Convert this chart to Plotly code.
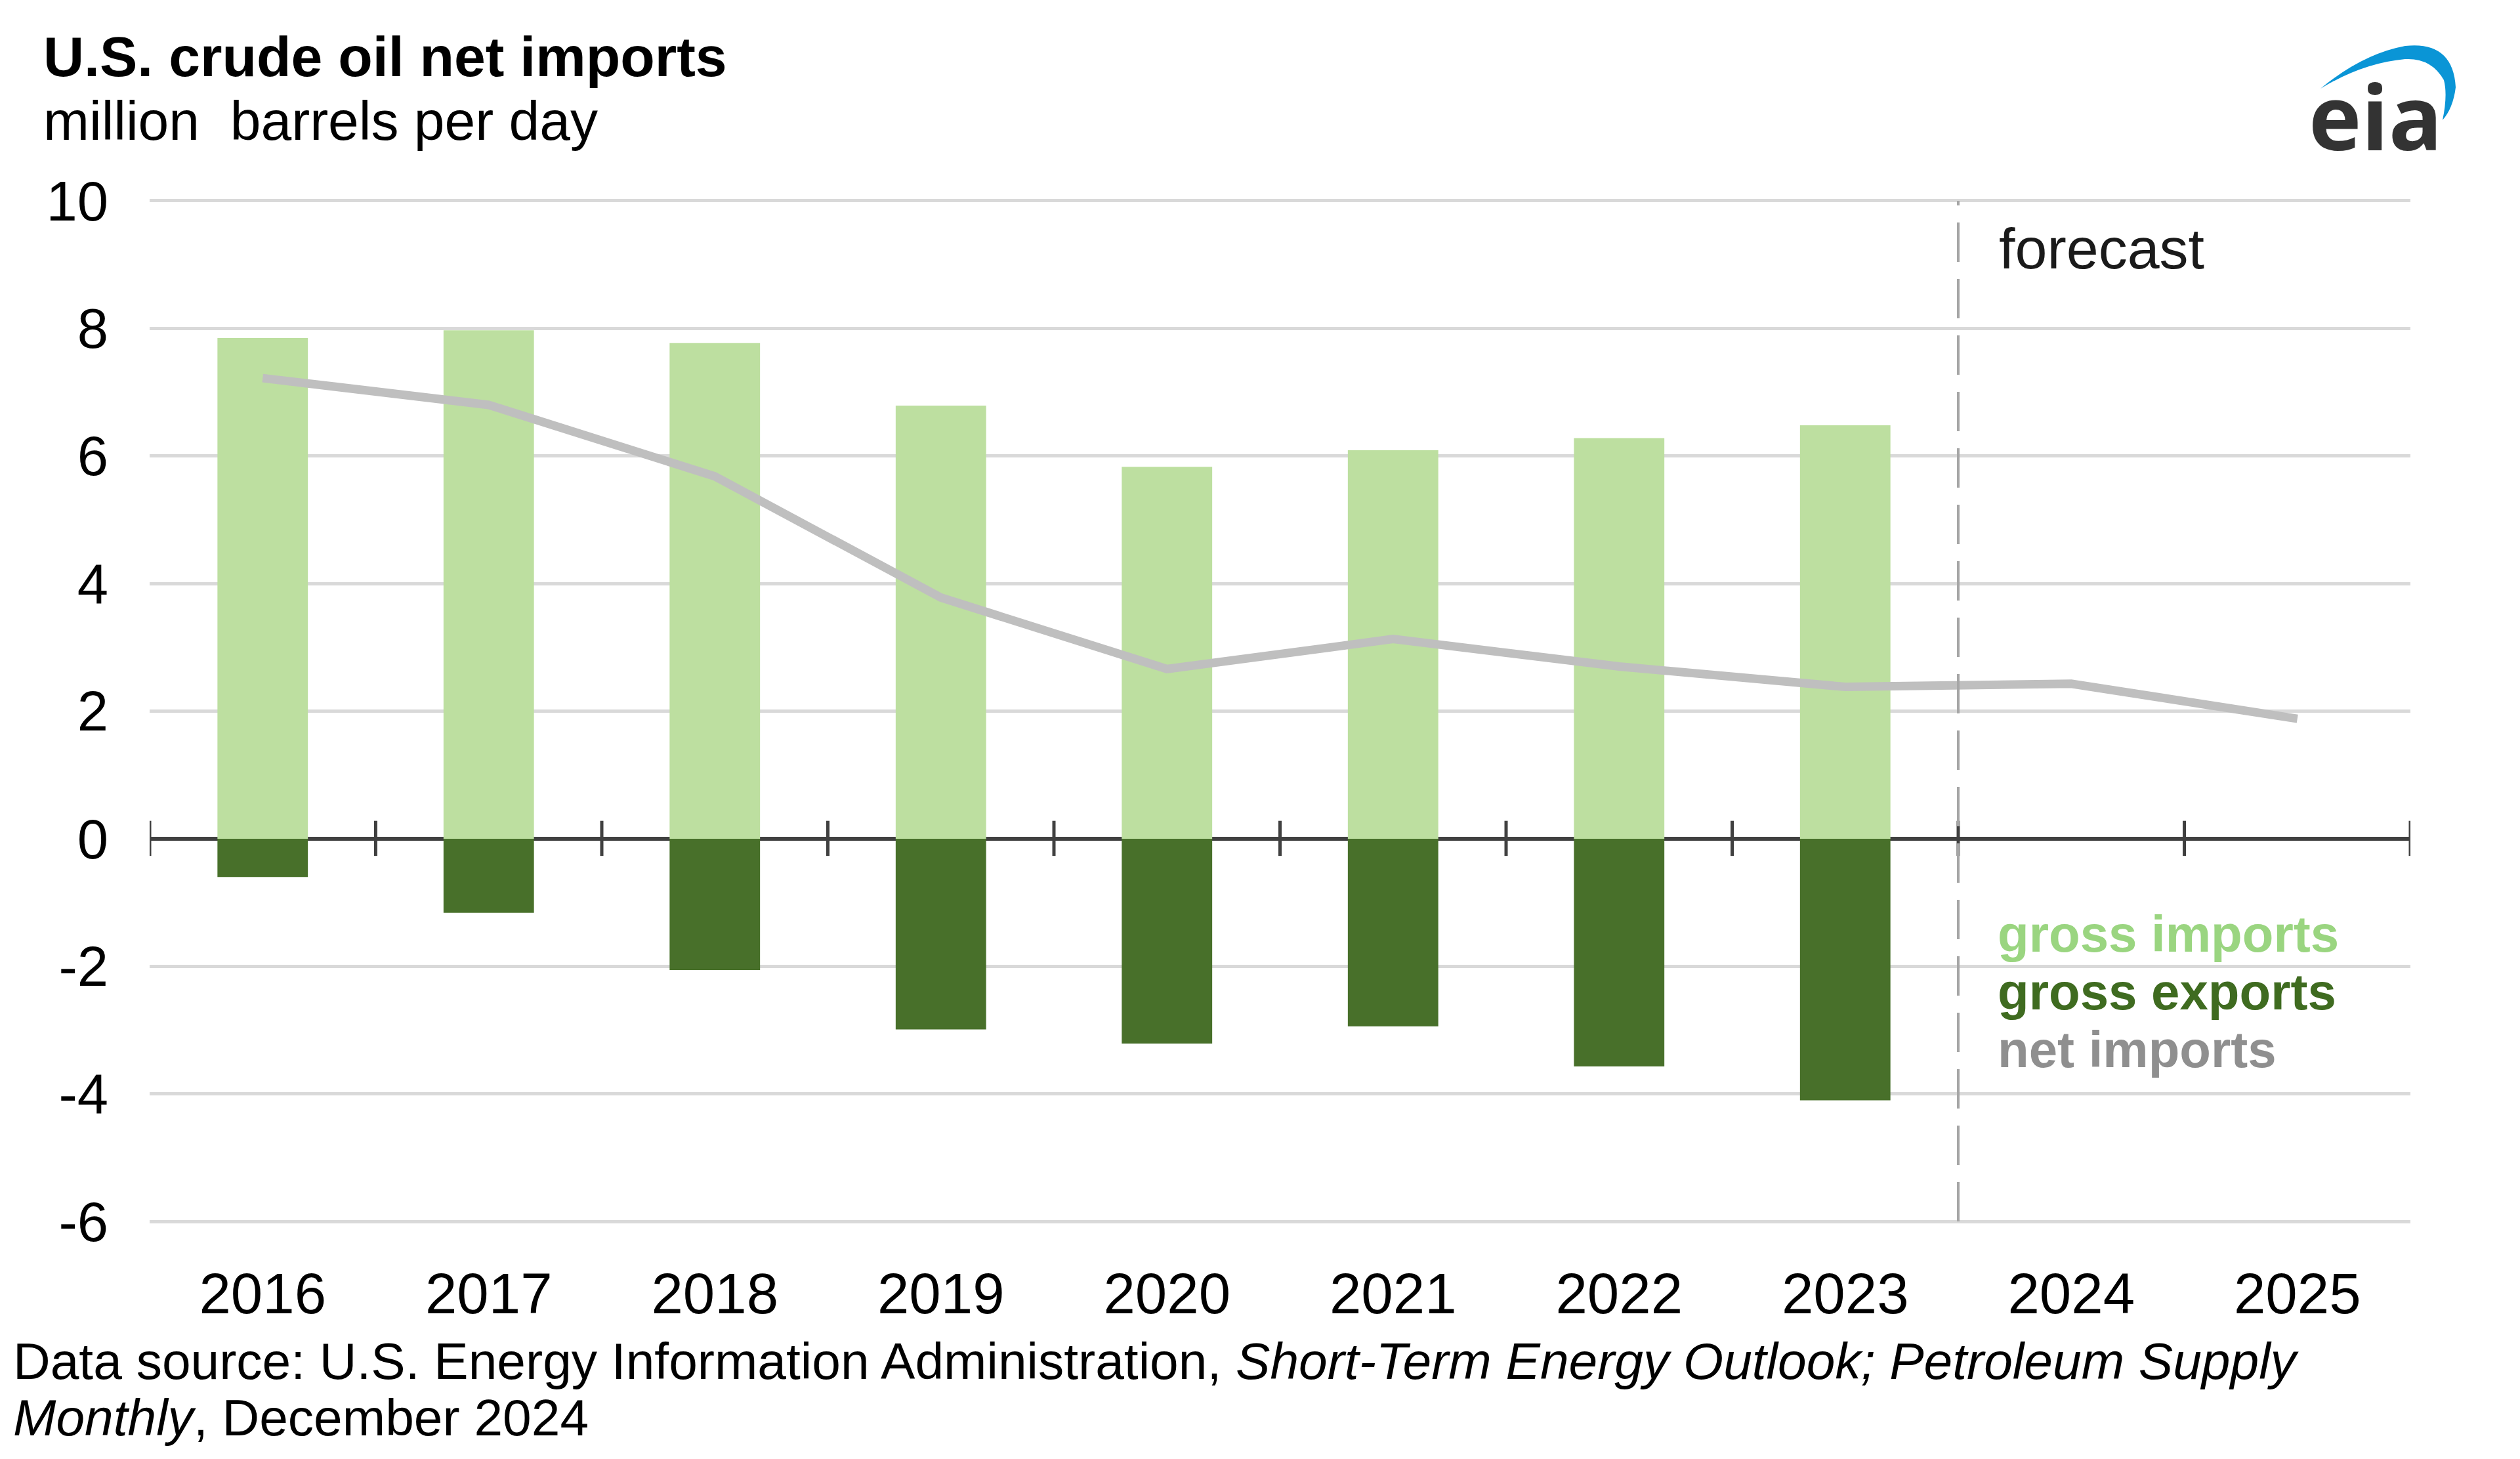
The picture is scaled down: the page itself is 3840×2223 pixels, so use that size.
import plotly.graph_objects as go

# ---- data ----
years = ["2016", "2017", "2018", "2019", "2020", "2021", "2022", "2023", "2024", "2025"]
hist_years = years[:8]
gross_imports = [7.85, 7.97, 7.77, 6.79, 5.83, 6.09, 6.28, 6.48]
gross_exports = [-0.60, -1.16, -2.06, -2.99, -3.21, -2.94, -3.57, -4.10]
net_imports = [7.22, 6.80, 5.68, 3.78, 2.66, 3.13, 2.70, 2.38, 2.43, 1.88]
y_ticks = [-6, -4, -2, 0, 2, 4, 6, 8, 10]

W, H = 3840, 2223
ML, MR, MT, MB = 228, 167, 304, 360
PW, PH = W - ML - MR, H - MT - MB

def px(x):
    return (x - ML) / PW

def py(y):
    return (H - MB - y) / PH

FONT = "Liberation Sans, Arial, sans-serif"
LIGHT = "#BDDFA0"
DARK = "#48702A"
LINE = "#BFBFBF"

fig = go.Figure()
fig.add_bar(x=hist_years, y=gross_imports, marker_color=LIGHT, width=0.4,
            marker_line_width=0, name="gross imports")
fig.add_bar(x=hist_years, y=gross_exports, marker_color=DARK, width=0.4,
            marker_line_width=0, name="gross exports")
fig.add_scatter(x=years, y=net_imports, mode="lines", line=dict(color=LINE, width=13),
                name="net imports")

shapes = []
# tick marks across zero line at category boundaries
for i in range(len(years) + 1):
    shapes.append(dict(type="line", xref="x", yref="y", x0=i - 0.5, x1=i - 0.5,
                       y0=-0.27, y1=0.28, line=dict(color="#404040", width=5)))
# forecast divider
shapes.append(dict(type="line", xref="x", yref="y", x0=len(hist_years) - 0.5,
                   x1=len(hist_years) - 0.5, y0=y_ticks[0], y1=y_ticks[-1],
                   line=dict(color="#A6A6A6", width=4, dash="60px,26px")))
# eia logo arc
pts_outer = [(3536, 135), (3600, 82), (3665, 70), (3738, 62), (3742, 133), (3738, 165), (3722, 183)]
pts_inner = [(3730, 145), (3724, 122), (3705, 88), (3665, 90), (3600, 96), (3536, 135)]
def P(p):
    return f"{px(p[0]):.5f},{py(p[1]):.5f}"
path = (f"M {P(pts_outer[0])} Q {P(pts_outer[1])} {P(pts_outer[2])} "
        f"Q {P(pts_outer[3])} {P(pts_outer[4])} Q {P(pts_outer[5])} {P(pts_outer[6])} "
        f"Q {P(pts_inner[0])} {P(pts_inner[1])} Q {P(pts_inner[2])} {P(pts_inner[3])} "
        f"Q {P(pts_inner[4])} {P(pts_inner[5])} Z")
shapes.append(dict(type="path", xref="paper", yref="paper", path=path,
                   fillcolor="#0A95D6", line=dict(width=0)))

annotations = [
    dict(text="<b>U.S. crude oil net imports</b>", x=px(64), y=py(86), xanchor="left",
         yanchor="middle", font=dict(size=86, color="#000000")),
    dict(text="million  barrels per day", x=px(64), y=py(184), xanchor="left",
         yanchor="middle", font=dict(size=84, color="#000000")),
    dict(text="forecast", x=px(3044), y=py(378), xanchor="left", yanchor="middle",
         font=dict(size=88, color="#1A1A1A")),
    dict(text="<b>gross imports</b>", x=px(3042), y=py(1423), xanchor="left", yanchor="middle",
         font=dict(size=78, color="#9AD580")),
    dict(text="<b>gross exports</b>", x=px(3042), y=py(1511), xanchor="left", yanchor="middle",
         font=dict(size=78, color="#3F6B20")),
    dict(text="<b>net imports</b>", x=px(3042), y=py(1599), xanchor="left", yanchor="middle",
         font=dict(size=78, color="#8F8F8F")),
    dict(text="Data source: U.S. Energy Information Administration, <i>Short-Term Energy Outlook; Petroleum Supply</i>",
         x=px(18), y=py(2074), xanchor="left", yanchor="middle",
         font=dict(size=78.5, color="#000000")),
    dict(text="<i>Monthly</i>, December 2024",
         x=px(18), y=py(2160), xanchor="left", yanchor="middle",
         font=dict(size=78.5, color="#000000")),
    dict(text="<b>eia</b>", x=px(3620), y=py(176), xanchor="center", yanchor="middle",
         font=dict(size=136, color="#333333", family="Open Sans, Liberation Sans, sans-serif")),
]
for a in annotations:
    a.update(xref="paper", yref="paper", showarrow=False)
    a["font"].setdefault("family", FONT)

fig.update_layout(
    width=W, height=H,
    margin=dict(l=ML, r=MR, t=MT, b=MB, pad=0),
    paper_bgcolor="white", plot_bgcolor="white",
    barmode="relative", bargap=0.6,
    showlegend=False,
    font=dict(family=FONT, color="#000000"),
    shapes=shapes, annotations=annotations,
    xaxis=dict(type="category", categoryorder="array", categoryarray=years,
               range=[-0.5, len(years) - 0.5], showgrid=False, zeroline=False,
               showline=False, ticks="", tickfont=dict(size=87, color="#000000"),
               ticklabelstandoff=50),
    yaxis=dict(range=[y_ticks[0] - 0.02, y_ticks[-1] + 0.02], tickvals=y_ticks,
               ticktext=[str(v) for v in y_ticks],
               showgrid=True, gridcolor="#D9D9D9", gridwidth=5,
               zeroline=True, zerolinecolor="#404040", zerolinewidth=6,
               showline=False, ticks="", tickfont=dict(size=85, color="#000000"),
               ticklabelstandoff=62),
)

fig.write_html("out.html")
